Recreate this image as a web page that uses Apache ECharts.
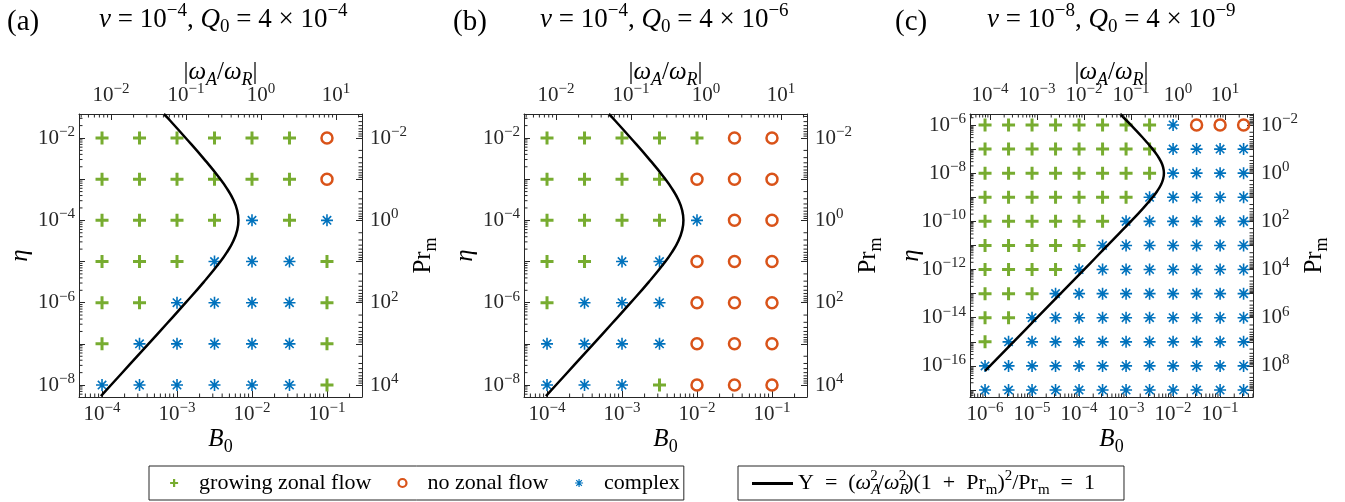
<!doctype html>
<html lang="en">
  <head>
    <meta charset="UTF-8" />
    <title>Zonal flow regimes</title>
    <style>
      html, body { margin: 0; padding: 0; background: #fff; }
      #chart { width: 1345px; height: 502px; }
    </style>
  </head>
  <body>
    <div id="chart"></div>
    <script src="https://cdn.jsdelivr.net/npm/echarts@6.0.0/dist/echarts.min.js"></script>
    <script>
      // run grid, stored as log10 values (the axes are logarithmic)
      const b0ExpAB = [-4, -3.5, -3, -2.5, -2, -1.5, -1];
      const etaExpAB = [-2, -3, -4, -5, -6, -7, -8];
      const b0ExpC = [-6, -5.5, -5, -4.5, -4, -3.5, -3, -2.5, -2, -1.5, -1, -0.5];
      const etaExpC = [-6, -7, -8, -9, -10, -11, -12, -13, -14, -15, -16, -17];

      // one string per eta row (top to bottom), one letter per B0 column
      // G = growing zonal flow, N = no zonal flow, C = complex
      const regimeA = ["GGGGGGN", "GGGGGGN", "GGGGCGC", "GGGCCCG", "GGCCCCG", "GCCCCCG", "CCCCCCG"];
      const regimeB = ["GGGGGNN", "GGGGNNN", "GGGGCNN", "GGCCNNN", "GCCCNNN", "CCCCNNN", "CCCGNNN"];
      const regimeC = [
        "GGGGGGGGCNNN",
        "GGGGGGGGCCCC",
        "GGGGGGGGCCCC",
        "GGGGGGGCCCCC",
        "GGGGGGCCCCCC",
        "GGGGGCCCCCCC",
        "GGGGCCCCCCCC",
        "GGGCCCCCCCCC",
        "GGCCCCCCCCCC",
        "GCCCCCCCCCCC",
        "CCCCCCCCCCCC",
        "CCCCCCCCCCCC",
      ];

      // Upsilon = 1 curve: log10 eta, log10 B0
      const curveEtaAB = [-1.417, -1.5, -2, -2.5, -3, -3.25, -3.5, -3.75, -4, -4.25, -4.5, -4.75, -5, -5.5, -6, -6.5, -7, -7.5, -8, -8.27];
      const curveB0AB = [-3.175, -3.131, -2.884, -2.644, -2.421, -2.326, -2.249, -2.199, -2.181, -2.199, -2.249, -2.326, -2.421, -2.644, -2.884, -3.131, -3.38, -3.63, -3.88, -4.015];
      const curveEtaC = [-5.544, -6, -6.5, -7, -7.25, -7.5, -7.75, -8, -8.25, -8.5, -8.75, -9, -9.5, -10, -10.5, -11, -11.5, -12, -13, -14, -15, -16, -16.21];
      const curveB0C = [-3.126, -2.898, -2.658, -2.435, -2.34, -2.263, -2.213, -2.195, -2.213, -2.263, -2.34, -2.435, -2.658, -2.898, -3.145, -3.394, -3.644, -3.894, -4.394, -4.894, -5.394, -5.894, -5.999];

      const serif = "'Liberation Serif', 'DejaVu Serif', serif";
      const axisColor = "#262626";

      function mathStyles(size, color) {
        const lh = Math.round(size * 1.3);
        const small = Math.round(size * 0.7);
        const base = { fontFamily: serif, fontWeight: "normal", color: color };
        return {
          r: Object.assign({}, base, { fontSize: size, lineHeight: lh }),
          i: Object.assign({}, base, { fontSize: size, lineHeight: lh, fontStyle: "italic" }),
          s: Object.assign({}, base, { fontSize: small, lineHeight: Math.round(size * 0.6), verticalAlign: "top" }),
          b: Object.assign({}, base, { fontSize: small, lineHeight: Math.round(size * 0.8), verticalAlign: "bottom" }),
          bi: Object.assign({}, base, { fontSize: small, lineHeight: Math.round(size * 0.8), verticalAlign: "bottom", fontStyle: "italic" }),
          ss: Object.assign({}, base, { fontSize: small, lineHeight: Math.round(size * 0.6), verticalAlign: "top", padding: [0, 0, 0, -10] }),
        };
      }

      function decadeLabel(step) {
        return function (v) {
          const e = Math.round(v);
          if (Math.abs(v - e) > 1e-6 || e % step !== 0) return "";
          return "{r|10}{s|" + String(e).replace("-", "−") + "}";
        };
      }

      function minorTicks(lo, hi) {
        const out = [];
        for (let d = Math.floor(lo); d < hi; d++) {
          for (let m = 2; m <= 9; m++) {
            const v = d + Math.log10(m);
            if (v > lo && v < hi) out.push(v);
          }
        }
        return out;
      }

      const panels = [
        {
          tag: "(a)", tagLeft: 7, titleLeft: 99,
          title: "{i|ν}{r| = 10}{s|−4}{r|, }{i|Q}{b|0}{r| = 4 × 10}{s|−4}",
          left: 79, x: [-4.307, -0.533], y: [-8.291, -1.417], nuExp: -4, shift: 1.88, yStep: 2,
          b0: b0ExpAB, eta: etaExpAB, regime: regimeA, curveEta: curveEtaAB, curveB0: curveB0AB,
        },
        {
          tag: "(b)", tagLeft: 453, titleLeft: 540,
          title: "{i|ν}{r| = 10}{s|−4}{r|, }{i|Q}{b|0}{r| = 4 × 10}{s|−6}",
          left: 524, x: [-4.307, -0.533], y: [-8.291, -1.417], nuExp: -4, shift: 1.88, yStep: 2,
          b0: b0ExpAB, eta: etaExpAB, regime: regimeB, curveEta: curveEtaAB, curveB0: curveB0AB,
        },
        {
          tag: "(c)", tagLeft: 895, titleLeft: 987,
          title: "{i|ν}{r| = 10}{s|−8}{r|, }{i|Q}{b|0}{r| = 4 × 10}{s|−9}",
          left: 970, x: [-6.32, -0.3], y: [-17.29, -5.544], nuExp: -8, shift: 1.894, yStep: 2,
          b0: b0ExpC, eta: etaExpC, regime: regimeC, curveEta: curveEtaC, curveB0: curveB0C,
        },
      ];
      const plotTop = 114;
      const plotSize = 283;

      const kinds = {
        G: { name: "growing zonal flow", symbol: "path://M-1,0L1,0M0,-1L0,1", size: 13, color: "#77AC30", width: 3 },
        N: { name: "no zonal flow", symbol: "circle", size: 11, color: "#D95319", width: 2.5 },
        C: { name: "complex", symbol: "path://M0,-1L0,1M-1,0L1,0M-0.7,-0.7L0.7,0.7M-0.7,0.7L0.7,-0.7", size: 12, color: "#0072BD", width: 1.6 },
      };
      const curveName = "Upsilon";

      const labelRich = mathStyles(21, axisColor);
      const nameRich = mathStyles(25, "#000");
      const titleRich = mathStyles(27, "#000");

      function axisBase(gridIndex, lo, hi) {
        return {
          type: "value",
          gridIndex: gridIndex,
          min: lo,
          max: hi,
          splitNumber: Math.round(hi - lo),
          minInterval: 1,
          maxInterval: 1,
          nameLocation: "middle",
          nameMoveOverlap: false,
          nameTextStyle: { rich: nameRich },
          axisLine: { show: true, onZero: false, lineStyle: { color: axisColor, width: 1 } },
          axisTick: { show: true, inside: true, length: 6, lineStyle: { color: axisColor } },
          splitLine: { show: false },
          axisLabel: { rich: labelRich, color: axisColor },
        };
      }

      function tickSeries(pi, side, values) {
        const horizontal = side === "bottom" || side === "top";
        return {
          type: "custom",
          xAxisIndex: pi * 2 + (side === "top" ? 1 : 0),
          yAxisIndex: pi * 2 + (side === "right" ? 1 : 0),
          silent: true,
          clip: false,
          z: 5,
          data: values.map((v) => (horizontal ? [v, 0] : [0, v])),
          renderItem: function (params, api) {
            const cs = params.coordSys;
            const pt = api.coord([api.value(0), api.value(1)]);
            const len = 3.5;
            let shape;
            if (side === "bottom") shape = { x1: pt[0], y1: cs.y + cs.height, x2: pt[0], y2: cs.y + cs.height - len };
            else if (side === "top") shape = { x1: pt[0], y1: cs.y, x2: pt[0], y2: cs.y + len };
            else if (side === "left") shape = { x1: cs.x, y1: pt[1], x2: cs.x + len, y2: pt[1] };
            else shape = { x1: cs.x + cs.width, y1: pt[1], x2: cs.x + cs.width - len, y2: pt[1] };
            return { type: "line", shape: shape, style: { stroke: axisColor, lineWidth: 1 } };
          },
        };
      }

      const grids = [];
      const xAxes = [];
      const yAxes = [];
      const series = [];
      const titles = [];

      panels.forEach((p, pi) => {
        grids.push({ left: p.left, top: plotTop, width: plotSize, height: plotSize, outerBoundsMode: "none" });

        const bottom = axisBase(pi, p.x[0], p.x[1]);
        bottom.position = "bottom";
        bottom.name = "{i|B}{b|0}";
        bottom.nameGap = 26;
        bottom.axisLabel.formatter = decadeLabel(1);
        bottom.axisLabel.margin = 4;

        const top = axisBase(pi, p.x[0] + p.shift, p.x[1] + p.shift);
        top.position = "top";
        top.name = "{r||}{i|ω}{bi|A}{r|/}{i|ω}{bi|R}{r||}";
        top.nameGap = 25;
        top.axisLabel.formatter = decadeLabel(1);
        top.axisLabel.margin = 5;

        const left = axisBase(pi, p.y[0], p.y[1]);
        left.position = "left";
        left.name = "{i|η}";
        left.nameGap = 42;
        left.axisLabel.formatter = decadeLabel(p.yStep);
        left.axisLabel.margin = 4;

        const right = axisBase(pi, p.nuExp - p.y[1], p.nuExp - p.y[0]);
        right.position = "right";
        right.inverse = true;
        right.name = "{r|Pr}{b|m}";
        right.nameGap = 45;
        right.axisLabel.formatter = decadeLabel(p.yStep);
        right.axisLabel.margin = 8;

        xAxes.push(bottom, top);
        yAxes.push(left, right);

        Object.keys(kinds).forEach((code) => {
          const k = kinds[code];
          const data = [];
          p.regime.forEach((row, i) => {
            row.split("").forEach((c, j) => {
              if (c === code) data.push([p.b0[j], p.eta[i]]);
            });
          });
          series.push({
            name: k.name,
            type: "scatter",
            xAxisIndex: pi * 2,
            yAxisIndex: pi * 2,
            symbol: k.symbol,
            symbolSize: k.size,
            itemStyle: { color: "rgba(0,0,0,0)", borderColor: k.color, borderWidth: k.width, opacity: 1 },
            z: 2,
            data: data,
          });
        });

        series.push({
          name: curveName,
          type: "line",
          xAxisIndex: pi * 2,
          yAxisIndex: pi * 2,
          symbol: "none",
          smooth: true,
          lineStyle: { color: "#000", width: 2.5 },
          itemStyle: { color: "#000" },
          z: 3,
          data: p.curveB0.map((b, i) => [b, p.curveEta[i]]),
        });

        series.push(tickSeries(pi, "bottom", minorTicks(p.x[0], p.x[1])));
        series.push(tickSeries(pi, "top", minorTicks(p.x[0] + p.shift, p.x[1] + p.shift)));
        series.push(tickSeries(pi, "left", minorTicks(p.y[0], p.y[1])));
        series.push(tickSeries(pi, "right", minorTicks(p.nuExp - p.y[1], p.nuExp - p.y[0])));

        titles.push({
          text: p.tag,
          left: p.tagLeft,
          top: 4,
          padding: 0,
          textStyle: { fontFamily: serif, fontSize: 29, fontWeight: "normal", color: "#000", lineHeight: 36 },
        });
        titles.push({
          text: p.title,
          left: p.titleLeft,
          top: 2,
          padding: 0,
          textStyle: { fontFamily: serif, fontSize: 27, fontWeight: "normal", color: "#000", rich: titleRich },
        });
      });

      const legendRich = mathStyles(22, "#000");
      legendRich.t = { fontFamily: serif, fontSize: 22, lineHeight: 22, color: "#000", padding: [0, 0, 0, 16] };

      const option = {
        animation: false,
        backgroundColor: "#fff",
        title: titles,
        grid: grids,
        xAxis: xAxes,
        yAxis: yAxes,
        legend: [
          {
            left: 149,
            top: 466,
            orient: "horizontal",
            selectedMode: false,
            padding: [6, 4, 6, 20],
            itemGap: 26,
            itemWidth: 8,
            itemHeight: 8,
            borderColor: axisColor,
            borderWidth: 1,
            borderRadius: 0,
            data: [
              { name: kinds.G.name, itemStyle: { borderWidth: 2.2 } },
              { name: kinds.N.name, itemStyle: { borderWidth: 2.2 } },
              { name: kinds.C.name, itemStyle: { borderWidth: 1.2 } },
            ],
            formatter: (n) => "{t|" + n + "}",
            textStyle: { fontFamily: serif, fontSize: 22, color: "#000", rich: legendRich },
          },
          {
            left: 738,
            top: 466,
            orient: "horizontal",
            selectedMode: false,
            padding: [3, 29, 2, 14],
            itemWidth: 41,
            itemHeight: 3,
            borderColor: axisColor,
            borderWidth: 1,
            borderRadius: 0,
            data: [{ name: curveName, icon: "rect", itemStyle: { color: "#000" } }],
            formatter: () =>
              "{r|Υ  =  (}{i|ω}{bi|A}{ss|2}{r|/}{i|ω}{bi|R}{ss|2}{r|)(1  +  Pr}{b|m}{r|)}{s|2}{r|/Pr}{b|m}{r|  =  1}",
            textStyle: { fontFamily: serif, fontSize: 22, color: "#000", rich: legendRich },
          },
        ],
        series: series,
      };

      const myChart = echarts.init(document.getElementById("chart"));
      myChart.setOption(option);
    </script>
  </body>
</html>
